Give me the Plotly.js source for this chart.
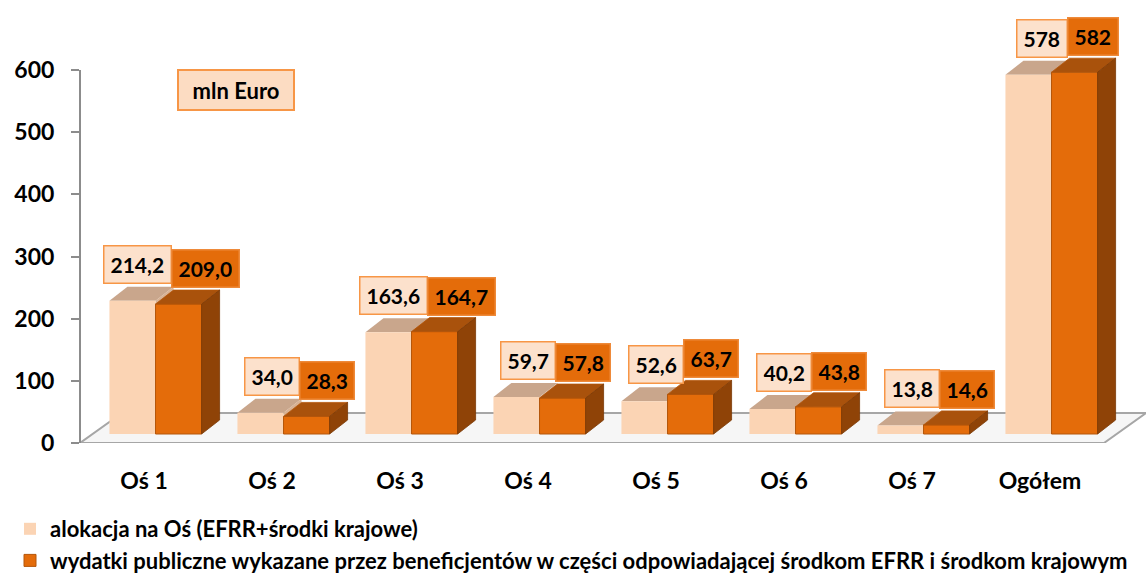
<!DOCTYPE html>
<html>
<head>
<meta charset="utf-8">
<script src="https://cdn.plot.ly/plotly-3.0.1.min.js"></script>
<style>
  html, body { margin: 0; padding: 0; background: #ffffff; }
  #chart { width: 1146px; height: 577px; }
</style>
</head>
<body>
<div id="chart"></div>
<script>
// ---- data ----
const categories = ['Oś 1', 'Oś 2', 'Oś 3', 'Oś 4', 'Oś 5', 'Oś 6', 'Oś 7', 'Ogółem'];
const allocation = [214.2, 34.0, 163.6, 59.7, 52.6, 40.2, 13.8, 578];
const spending   = [209.0, 28.3, 164.7, 57.8, 63.7, 43.8, 14.6, 582];
const labelDecimals = [1, 1, 1, 1, 1, 1, 1, 0];
const yTickValues = [0, 100, 200, 300, 400, 500, 600];
const seriesNames = [
  'alokacja na Oś (EFRR+środki krajowe)',
  'wydatki publiczne wykazane przez beneficjentów w części odpowiadającej środkom EFRR i środkom krajowym'
];
const unitLabel = 'mln Euro';

// ---- geometry / style ----
const W = 1146, H = 577;
const M = { l: 80, r: 0, t: 5, b: 134, autoexpand: false };
const plotW = W - M.l - M.r, plotH = H - M.t - M.b;
const pxPerCat = 128;
const pxPerVal = 373 / 600;
const xMin = -0.5, xMax = xMin + plotW / pxPerCat;
const yMax = plotH / pxPerVal;
const barW = 0.36, offA = -0.27, offS = 0.09;
const base = 9 / pxPerVal;
const dX = 18 / pxPerCat, dY = 14 / pxPerVal;

const C = {
  allocFront: '#FBD4B4', allocTop: '#C9A68C', allocSide: '#D8B294',
  spendFront: '#E46C0A', spendTop: '#A9520C', spendSide: '#8F4307',
  spendEdge: '#B4560A', border: '#F79646', axis: '#8C8C8C'
};
const FONT = 'Lato, "Open Sans", sans-serif';

const idx = categories.map((_, i) => i);
const fmt = (v, d) => v.toFixed(d).replace('.', ',');

const traces = [
  {
    type: 'bar', x: idx, y: allocation, base: base, offset: offA, width: barW,
    name: seriesNames[0], legendgroup: 'a',
    marker: { color: C.allocFront, line: { width: 0 } }, hoverinfo: 'y'
  },
  {
    type: 'bar', x: idx, y: spending, base: base, offset: offS, width: barW,
    name: seriesNames[1], legendgroup: 'b',
    marker: { color: C.spendFront, line: { width: 1, color: C.spendEdge } }, hoverinfo: 'y'
  }
];

function poly(pts) {
  return 'M' + pts.map(p => p[0] + ',' + p[1]).join(' L') + ' Z';
}

const shapes = [];
// floor
const floorBackY = 30 / pxPerVal, floorBackX = 42 / pxPerCat;
shapes.push({
  type: 'path', xref: 'x', yref: 'y', layer: 'below',
  path: poly([[-0.5, 0], [7.5, 0], [7.5 + floorBackX, floorBackY], [-0.5 + floorBackX, floorBackY]]),
  fillcolor: 'rgba(0,0,0,0.035)', line: { color: '#A6A6A6', width: 2 }
});
// y axis line
shapes.push({
  type: 'line', xref: 'paper', yref: 'y', x0: 0, x1: 0, y0: 0, y1: 600,
  line: { color: C.axis, width: 2 }, layer: 'above'
});

idx.forEach(i => {
  // allocation bar faces
  let xl = i + offA, xr = xl + barW, top = base + allocation[i];
  shapes.push({
    type: 'path', layer: 'below', xref: 'x', yref: 'y',
    path: poly([[xr, base], [xr + dX, base + dY], [xr + dX, top + dY], [xr, top]]),
    fillcolor: C.allocSide, line: { width: 0 }
  });
  shapes.push({
    type: 'path', layer: 'below', xref: 'x', yref: 'y',
    path: poly([[xl, top], [xr, top], [xr + dX, top + dY], [xl + dX, top + dY]]),
    fillcolor: C.allocTop, line: { width: 0 }
  });
  // spending bar faces
  xl = i + offS; xr = xl + barW; top = base + spending[i];
  shapes.push({
    type: 'path', layer: 'above', xref: 'x', yref: 'y',
    path: poly([[xl, top], [xr, top], [xr + dX, top + dY], [xl + dX, top + dY]]),
    fillcolor: C.spendTop, line: { width: 0.8, color: C.spendEdge }
  });
  shapes.push({
    type: 'path', layer: 'above', xref: 'x', yref: 'y',
    path: poly([[xr, base], [xr + dX, base + dY], [xr + dX, top + dY], [xr, top]]),
    fillcolor: C.spendSide, line: { width: 0.8, color: '#7A3905' }
  });
});

const labelFont = { family: FONT, size: 21, color: '#000000', weight: 700 };
const annotations = [];
idx.forEach(i => {
  annotations.push({
    x: i, y: base + allocation[i], xref: 'x', yref: 'y',
    xanchor: 'right', yanchor: 'bottom', xshift: 28, yshift: 17,
    text: fmt(allocation[i], labelDecimals[i]), showarrow: false, font: labelFont,
    bgcolor: '#FCE1CC', bordercolor: C.border, borderwidth: 1.5, borderpad: 6, height: 24
  });
});
idx.forEach(i => {
  annotations.push({
    x: i, y: base + spending[i], xref: 'x', yref: 'y',
    xanchor: 'left', yanchor: 'bottom', xshift: 27, yshift: 16,
    text: fmt(spending[i], labelDecimals[i]), showarrow: false, font: labelFont,
    bgcolor: C.spendFront, bordercolor: '#EE8A3A', borderwidth: 1.5, borderpad: 6, height: 24
  });
});
annotations.push({
  x: (236 - M.l) / plotW, y: (443 - 90) / plotH, xref: 'paper', yref: 'paper',
  xanchor: 'center', yanchor: 'middle', showarrow: false,
  text: unitLabel, font: { family: FONT, size: 22, color: '#000000', weight: 700 },
  bgcolor: '#FCDCC2', bordercolor: C.border, borderwidth: 2, borderpad: 0, width: 114, height: 38
});

const layout = {
  width: W, height: H,
  margin: M,
  paper_bgcolor: '#ffffff', plot_bgcolor: 'rgba(0,0,0,0)',
  showlegend: true,
  barmode: 'overlay',
  xaxis: {
    range: [xMin, xMax], tickvals: idx, ticktext: categories,
    showgrid: false, zeroline: false, showline: false, ticks: '',
    ticklabelstandoff: 22,
    tickfont: { family: FONT, size: 23, color: '#000000', weight: 700 },
    fixedrange: true
  },
  yaxis: {
    range: [0, yMax], tickvals: yTickValues, ticktext: yTickValues.map(String),
    showgrid: false, zeroline: false, showline: false,
    ticks: 'outside', ticklen: 8, tickwidth: 2, tickcolor: C.axis,
    ticklabelstandoff: 12,
    tickfont: { family: FONT, size: 23, color: '#000000', weight: 700 },
    fixedrange: true
  },
  legend: {
    orientation: 'v', x: (10 - M.l) / plotW, y: (443 - 508) / plotH,
    xanchor: 'left', yanchor: 'top',
    font: { family: FONT, size: 22, color: '#000000', weight: 700 },
    traceorder: 'grouped', tracegroupgap: 0,
    bgcolor: 'rgba(0,0,0,0)', itemclick: false, itemdoubleclick: false
  },
  shapes: shapes,
  annotations: annotations
};

Plotly.newPlot('chart', traces, layout, { displayModeBar: false, staticPlot: true });
</script>
</body>
</html>
